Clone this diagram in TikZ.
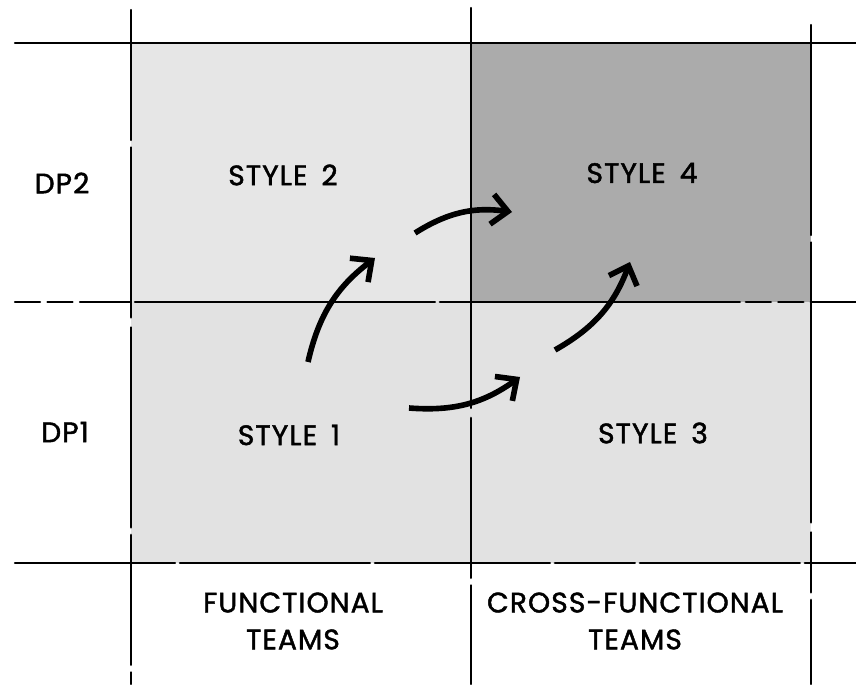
\documentclass[tikz,border=0pt]{standalone}
\usepackage{fontspec}
\setmainfont[LetterSpace=4, FakeBold=1.6]{Poppins}
\usetikzlibrary{arrows.meta}
\definecolor{cellpale}{HTML}{E6E6E6}
\definecolor{celllight}{HTML}{E2E2E2}
\definecolor{celldark}{HTML}{ABABAB}

\begin{document}
\begin{tikzpicture}[x=0.02cm, y=0.02cm,
  every node/.style={font=\fontsize{16}{21}\selectfont, align=center},
  rule/.style={line width=1.4pt, line cap=round},
  turn/.style={line width=3.2pt, -{Straight Barb[length=3.2mm,width=6mm]}}]
  \useasboundingbox (0,0) rectangle (856,684);

  \fill[cellpale] (131,382) rectangle (471,641);
  \fill[celldark] (471,382) rectangle (811,641);
  \fill[celllight] (131,121) rectangle (471,382);
  \fill[celllight] (471,121) rectangle (811,382);

  \draw[rule, dash pattern=on 18cm off 0.12cm] (15,641) -- (856,641);
  \draw[rule, dash pattern=on 0.5cm off 0.15cm on 0.5cm off 0.15cm on 1cm off 0.1cm on 6cm off 0.1cm on 6cm off 0.12cm] (15,382) -- (856,382);
  \draw[rule, dash pattern=on 3.2cm off 0.1cm on 3.8cm off 0.1cm on 3.5cm off 0.1cm on 1.6cm off 0.1cm] (15,121) -- (856,121);
  \draw[rule, dash pattern=on 2.6cm off 0.15cm on 3.4cm off 0.2cm on 4cm off 0.15cm] (131,674) -- (131,0);
  \draw[rule, dash pattern=on 8cm off 0.2cm on 3.2cm off 0.15cm] (471,676) -- (471,0);
  \draw[rule, dash pattern=on 4.2cm off 0.15cm on 5.6cm off 0.2cm on 1.2cm off 0.15cm] (811,659) -- (811,0);

  \node (dp2) at (62,501) {DP2};
  \node (dp1) at (65,252) {DP1};

  \node (style2) at (283,509) {STYLE\enspace 2};
  \node (style4) at (642,511) {STYLE\enspace 4};
  \node (style1) at (289,249) {STYLE\enspace 1};
  \node (style3) at (653,251) {STYLE\enspace 3};

  \node (functional) at (293,63) {FUNCTIONAL\\TEAMS};
  \node (crossfunctional) at (635,63) {CROSS-FUNCTIONAL\\TEAMS};

  \coordinate (up1) at (308,322);
  \coordinate (up2) at (375,426);
  \coordinate (over1) at (415,451);
  \coordinate (over2) at (512,472);
  \coordinate (across1) at (409,276);
  \coordinate (across2) at (520,307);
  \coordinate (rise1) at (555,334);
  \coordinate (rise2) at (630,422);

  \draw[turn] (up1) to[bend left=20] (up2);
  \draw[turn] (over1) to[bend left=20] (over2);
  \draw[turn] (across1) to[bend right=20] (across2);
  \draw[turn] (rise1) to[bend right=20] (rise2);
\end{tikzpicture}
\end{document}
